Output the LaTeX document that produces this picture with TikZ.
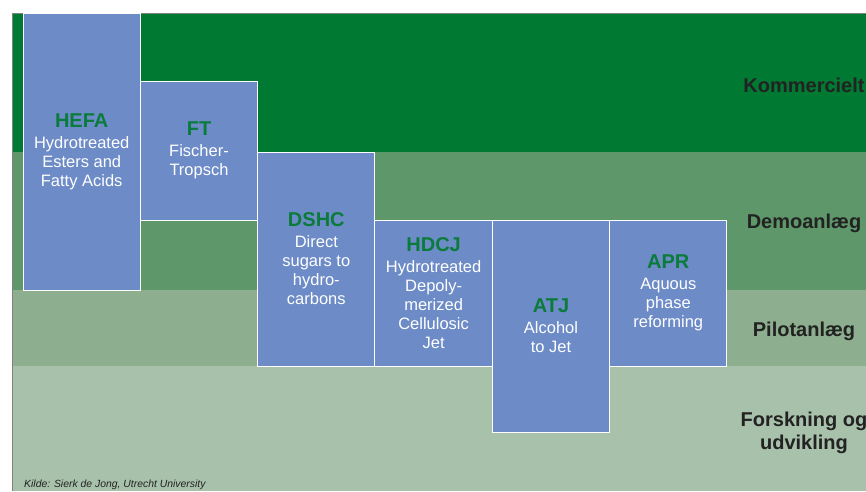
\documentclass[tikz,border=0pt]{standalone}
\usepackage{fontspec}
\setmainfont{Liberation Sans}
\usetikzlibrary{positioning}
\definecolor{komm}{RGB}{0,122,51}
\definecolor{demo}{RGB}{94,151,106}
\definecolor{pilot}{RGB}{141,174,143}
\definecolor{forsk}{RGB}{168,193,170}
\definecolor{boxblue}{RGB}{108,139,199}
\definecolor{titlegreen}{RGB}{11,123,59}
\definecolor{lvltext}{RGB}{34,34,34}
\definecolor{framegray}{RGB}{128,128,128}
\tikzset{route/.style={draw=white,line width=1pt,fill=boxblue,inner sep=0pt,
    minimum width=117.3pt,align=center,text=white,
    font=\fontsize{16.5}{19}\selectfont},
  lvl/.style={anchor=base,align=center,text=lvltext,
    font=\bfseries\fontsize{20}{23}\selectfont}}
\newcommand{\rtitle}[1]{{\color{titlegreen}\bfseries\fontsize{20}{20}\selectfont #1}}

\begin{document}
\begin{tikzpicture}[x=1pt,y=-1pt]
\useasboundingbox (0,0) rectangle (866,491);
\clip (0,0) rectangle (866,491);
\fill[komm] (12,13) rectangle (866,152);
\fill[demo] (12,152) rectangle (866,290);
\fill[pilot] (12,290) rectangle (866,366);
\fill[forsk] (12,366) rectangle (866,491);
\draw[framegray,line width=1pt] (12,491) -- (12,13) -- (866,13);
\node[route,minimum height=277pt] (hefa) at (81.7,151.5)
    {\rtitle{HEFA}\\[2pt]Hydrotreated\\Esters and\\Fatty Acids};
\node[route,minimum height=139pt] (ft) at (199,150.5)
    {\rtitle{FT}\\[2pt]Fischer-\\Tropsch};
\node[route,minimum height=214pt] (dshc) at (316.3,259)
    {\rtitle{DSHC}\\[2pt]Direct\\sugars to\\hydro-\\carbons};
\node[route,minimum height=146pt] (hdcj) at (433.6,293)
    {\rtitle{HDCJ}\\[2pt]Hydrotreated\\Depoly-\\merized\\Cellulosic\\Jet};
\node[route,minimum height=212pt] (atj) at (551,326)
    {\rtitle{ATJ}\\[2pt]Alcohol\\to Jet};
\node[route,minimum height=146pt] (apr) at (668.3,293)
    {\rtitle{APR}\\[2pt]Aquous\\phase\\reforming};
\node[lvl] (komm) at (804,92) {Kommercielt};
\node[lvl] (demo) at (804,228) {Demoanlæg};
\node[lvl] (pilot) at (804,336) {Pilotanlæg};
\node[lvl] (forsk) at (804,449) {Forskning og\\udvikling};
\node[anchor=base west,inner sep=0pt,text=lvltext,
    font=\itshape\fontsize{10.4}{12}\selectfont] (kilde) at (24,487)
    {Kilde: Sierk de Jong, Utrecht University};
\end{tikzpicture}
\end{document}
